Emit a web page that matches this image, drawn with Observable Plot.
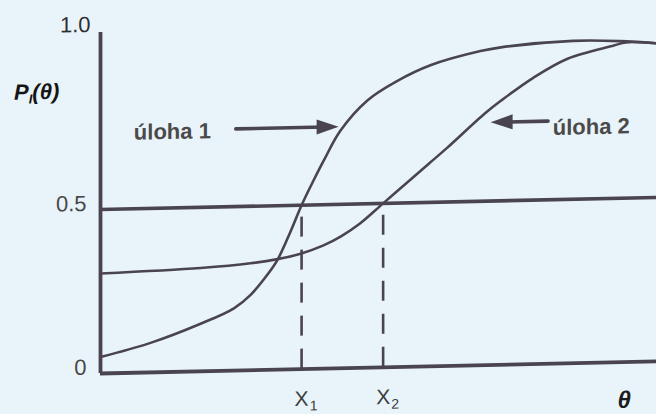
<!DOCTYPE html>
<html>
<head>
<meta charset="utf-8">
<script src="https://cdn.jsdelivr.net/npm/d3@7"></script>
<script src="https://cdn.jsdelivr.net/npm/@observablehq/plot@0.6"></script>
<style>
  html, body { margin: 0; padding: 0; background: #e9f4fa; }
  #chart svg { display: block; overflow: visible; }
</style>
</head>
<body>
<div id="chart"></div>
<script>
// Item characteristic curves P_I(θ) of two test items
const theta1 = [-3.00, -2.46, -1.92, -1.56, -1.38, -1.20, -1.09, -0.95, -0.83, -0.70, -0.59, -0.41, -0.12, 0.20, 0.56, 1.10, 1.32, 2.10, 2.61, 3.00];
const p1     = [0.050, 0.090, 0.145, 0.190, 0.230, 0.290, 0.335, 0.420, 0.500, 0.575, 0.635, 0.725, 0.815, 0.872, 0.918, 0.958, 0.968, 0.983, 0.979, 0.970];

const theta2 = [-3.00, -1.92, -1.38, -1.09, -0.84, -0.60, -0.40, -0.20, 0.05, 0.35, 0.56, 0.74, 1.15, 1.32, 1.67, 2.04, 2.54, 2.67, 3.00];
const p2     = [0.305, 0.315, 0.326, 0.337, 0.352, 0.375, 0.403, 0.440, 0.500, 0.572, 0.622, 0.665, 0.768, 0.805, 0.873, 0.929, 0.966, 0.975, 0.970];

// probability 0.5 reference level and the abilities where each item reaches it
const pHalf = 0.5;
const thresholdName = ["X", "X"];
const thresholdSub = ["1", "2"];
const thresholdTheta = [-0.83, 0.05];

// item annotations with arrows pointing at the curves
const itemName = ["úloha 1", "úloha 2"];
const itemNameTheta = [-2.64, 1.88];
const itemNameP = [0.732, 0.719];
const arrowFromTheta = [-1.54, 1.83];
const arrowToTheta = [-0.43, 1.21];
const arrowP = [0.737, 0.740];
const arrowTurn = [0, 180];

// y tick values and x-axis title position
const yTicks = [0, 0.5];
const yTopTick = [1.0];
const xTitle = ["θ"];
const xTitleTheta = [2.65];

const curve1 = theta1.map((t, i) => ({theta: t, p: p1[i]}));
const curve2 = theta2.map((t, i) => ({theta: t, p: p2[i]}));
const thresholds = thresholdTheta.map((t, i) => ({theta: t, name: thresholdName[i], sub: thresholdSub[i]}));
const items = itemName.map((name, i) => ({
  name, theta: itemNameTheta[i], p: itemNameP[i],
  from: arrowFromTheta[i], to: arrowToTheta[i], ap: arrowP[i], turn: arrowTurn[i]
}));

const ink = "#4a4450";
const font = "'Liberation Sans', Arial, sans-serif";

// filled arrowhead with its tip at the origin, pointing right
const arrowHead = {
  draw(ctx) {
    ctx.moveTo(0, 0);
    ctx.lineTo(-22, -7.5);
    ctx.lineTo(-22, 7.5);
    ctx.closePath();
  }
};

const fmt = d => d === 0 ? "0" : d3.format(".1f")(d);

const chart = Plot.plot({
  width: 656,
  height: 414,
  marginLeft: 100,
  marginRight: 0,
  marginTop: 32,
  marginBottom: 41,
  style: {background: "transparent", fontFamily: font},
  x: {domain: [-3, 3], axis: null},
  y: {domain: [0, 1.04], axis: null},
  marks: [
    Plot.axisY(yTicks, {tickSize: 0, tickPadding: 14, fontSize: 22, dy: -6, fill: "#474747", tickFormat: fmt, label: null}),
    Plot.axisY(yTopTick, {tickSize: 0, tickPadding: 10, fontSize: 22, dy: -21, fill: "#2e2e2e", tickFormat: fmt, label: null}),
    Plot.ruleY([pHalf], {stroke: ink, strokeWidth: 3.6}),
    Plot.ruleX(thresholds, {x: "theta", y1: 0, y2: pHalf, stroke: ink, strokeWidth: 2.6, strokeDasharray: "20,13"}),
    Plot.line(curve2, {x: "theta", y: "p", curve: "catmull-rom", stroke: ink, strokeWidth: 2.6}),
    Plot.line(curve1, {x: "theta", y: "p", curve: "catmull-rom", stroke: ink, strokeWidth: 2.6}),
    Plot.ruleY([0], {stroke: ink, strokeWidth: 3.8}),
    Plot.ruleX([-3], {y1: 0, y2: 1.04, stroke: ink, strokeWidth: 3.8}),
    Plot.arrow(items, {x1: "from", x2: "to", y1: "ap", y2: "ap", headLength: 0, insetEnd: 14, stroke: ink, strokeWidth: 3.6}),
    Plot.dot(items, {x: "to", y: "ap", symbol: arrowHead, rotate: "turn", fill: ink, stroke: "none"}),
    Plot.text(items, {x: "theta", y: "p", text: "name", textAnchor: "start", fontSize: 22, fontWeight: "bold", fill: "#4a4a4a"}),
    Plot.text(thresholds, {x: "theta", y: 0, text: "name", dy: 30, fontSize: 21, fill: "#3d3d3d"}),
    Plot.text(thresholds, {x: "theta", y: 0, text: "sub", dx: 12, dy: 37, fontSize: 14, fill: "#3d3d3d"}),
    Plot.text(xTitle, {x: xTitleTheta, y: [0], text: d => d, dy: 38, fontSize: 24, fontWeight: "bold", fontStyle: "italic", fill: "#1c1c1c"})
  ]
});

// y-axis title P_I(θ)
const yTitle = d3.select(chart).append("text")
  .attr("x", 14).attr("y", 98)
  .attr("text-anchor", "start")
  .attr("font-family", font).attr("font-size", 22)
  .attr("font-weight", "bold").attr("font-style", "italic")
  .attr("fill", "#151515");
yTitle.append("tspan").text("P");
yTitle.append("tspan").attr("font-size", 13).attr("dy", 4).text("I");
yTitle.append("tspan").attr("dy", -4).text("(θ)");

// the printed axes lean slightly upward to the right
chart.style.transformOrigin = "100px 373px";
chart.style.transform = "skewY(-1.25deg)";

document.getElementById("chart").appendChild(chart);
</script>
</body>
</html>
